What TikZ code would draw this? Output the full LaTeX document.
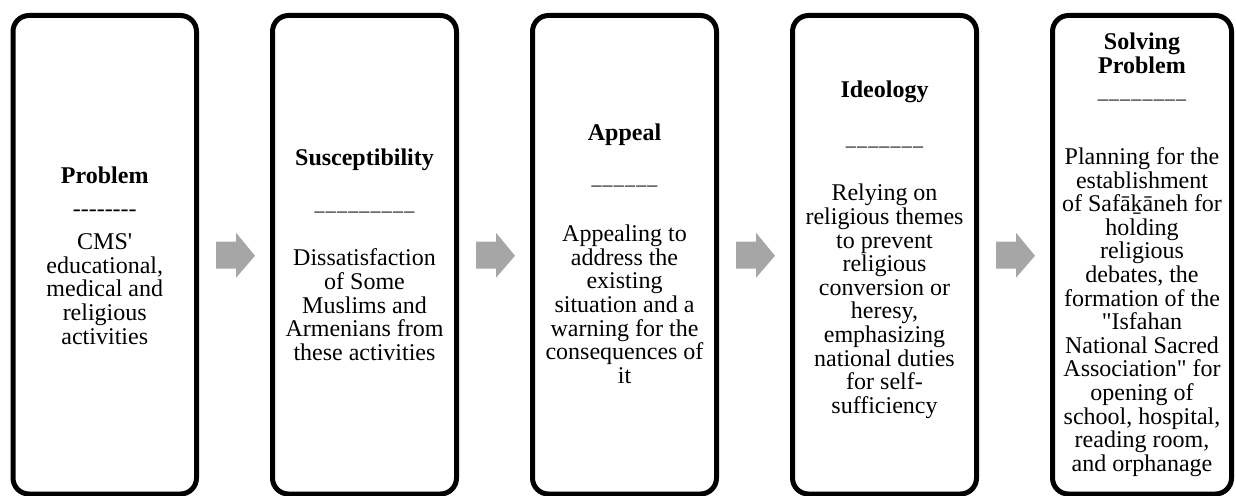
\documentclass[tikz,border=0pt]{standalone}
\usepackage{fontspec}
\setmainfont{Liberation Serif}
\usetikzlibrary{calc}
\definecolor{arrowgray}{HTML}{A6A6A6}
\newcommand{\uline}[1]{{\fontsize{10}{11.8}\selectfont#1}}
\newcommand{\us}{\_\kern0.6pt}
\tikzset{
  stage/.style={draw=black, line width=2.5pt, rounded corners=8pt,
    minimum height=239.25pt, inner sep=0pt},
  stagetext/.style={align=center, inner sep=0pt,
    font=\fontsize{12}{11.8}\selectfont},
  flowarrow/.style={fill=arrowgray, draw=none},
}
\begin{document}
\begin{tikzpicture}[x=0.5pt,y=-0.5pt]
\useasboundingbox (0,0) rectangle (1236,496);
\node[stage, minimum width=91.75pt] (b1) at (104.75,254.75) {};
\node[stage, minimum width=92pt] (b2) at (364.5,254.75) {};
\node[stage, minimum width=92pt] (b3) at (624.5,254.75) {};
\node[stage, minimum width=92pt] (b4) at (884.5,254.75) {};
\node[stage, minimum width=89.5pt] (b5) at (1142,254.75) {};
\node[stagetext, yshift=-0.5pt] (t1) at (b1.center)
 {\textbf{Problem}\\[4.7pt]
  -{}-{}-{}-{}-{}-{}-{}-\\[4.7pt]
  CMS\textquotesingle\\educational,\\medical and\\religious\\activities};
\node[stagetext] (t2) at (b2.center)
 {\textbf{Susceptibility}\\[10.5pt]
  \uline{\us\us\us\us\us\us\us\us\_}\\[16pt]
  Dissatisfaction\\of Some\\Muslims and\\Armenians from\\these activities};
\node[stagetext, yshift=0.5pt] (t3) at (b3.center)
 {\textbf{Appeal}\\[10pt]
  \uline{\us\us\us\us\us\_}\\[17pt]
  Appealing to\\address the\\existing\\situation and a\\warning for the\\consequences of\\it};
\node[stagetext, yshift=2.5pt] (t4) at (b4.center)
 {\textbf{Ideology}\\[12pt]
  \uline{\us\us\us\us\us\us\_}\\[16pt]
  Relying on\\religious themes\\to prevent\\religious\\conversion or\\heresy,\\emphasizing\\national duties\\for self-\\sufficiency};
\node[stagetext] (t5) at (b5.center)
 {\textbf{Solving}\\\textbf{Problem}\\[1pt]
  \uline{\us\us\us\us\us\us\us\_}\\[21pt]
  Planning for the\\establishment\\of Safāḵāneh for\\holding\\religious\\debates, the\\formation of the\\\textquotedbl Isfahan\\National Sacred\\Association\textquotedbl{} for\\opening of\\school, hospital,\\reading room,\\and orphanage};
\foreach \a/\b in {b1/b2,b2/b3,b3/b4,b4/b5}{
  \coordinate (m) at ($(\a.east)!0.5!(\b.west)$);
  \fill[flowarrow] ($(m)+(-18.5,-13)$) -- ($(m)+(1.5,-13)$) -- ($(m)+(1.5,-22)$)
    -- ($(m)+(20.5,1)$) -- ($(m)+(1.5,23)$) -- ($(m)+(1.5,14)$)
    -- ($(m)+(-18.5,14)$) -- cycle;
}
\end{tikzpicture}
\end{document}
